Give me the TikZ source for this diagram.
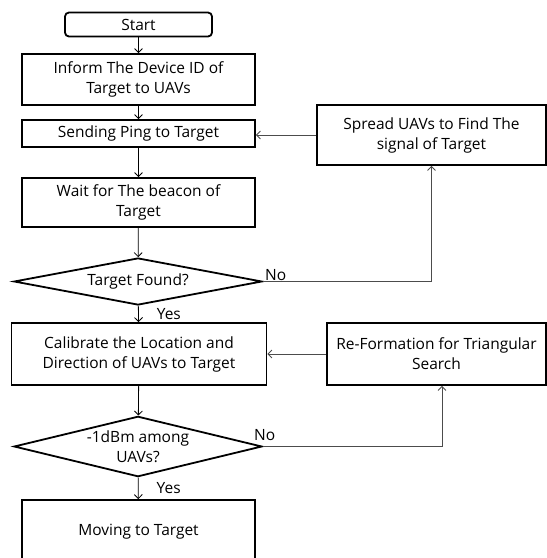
\documentclass[tikz,border=0pt]{standalone}
\usepackage{fontspec}
\setmainfont{Open Sans}
\usetikzlibrary{shapes.geometric,arrows.meta}

\begin{document}
\begin{tikzpicture}[x=1pt,y=-1pt,>={Straight Barb[length=4pt,width=8pt]}]
		\tikzstyle{every node}=[font=\fontsize{15.5}{20}\selectfont]
		\tikzstyle{box}=[draw,line width=1.8pt,fill=white,shape=rectangle,align=center,inner sep=2pt]
		\tikzstyle{startbox}=[box,rounded corners=4pt]
		\tikzstyle{decision}=[draw,line width=1.8pt,fill=white,shape=diamond,aspect=5,inner sep=0pt,align=center]
		\tikzstyle{flow}=[->,line width=0.8pt,black]
		\tikzstyle{back}=[->,line width=0.8pt,black!70]
		\tikzstyle{annot} = [inner sep=1pt]

		\clip (0,0) rectangle (547,558);

		\node[startbox, minimum width=147pt, minimum height=24pt](start) at (138.5,24.5){Start};
		\node[box, minimum width=233pt, minimum height=51pt](inform) at (138.5,79.5){Inform The Device ID of\\Target to UAVs};
		\node[box, minimum width=233pt, minimum height=27pt](ping) at (138.5,133.5){Sending Ping to Target};
		\node[box, minimum width=233pt, minimum height=49pt](wait) at (138.5,202.5){Wait for The beacon of\\Target};
		\node[decision, minimum width=248pt, minimum height=47pt](found) at (138,281.5){Target Found?};
		\node[box, minimum width=255pt, minimum height=62pt](calib) at (139,354){Calibrate the Location and\\Direction of UAVs to Target};
		\node[decision, aspect=3.6, minimum width=248pt, minimum height=59pt](dbm) at (138,446.5){-1dBm among\\UAVs?};
		\node[box, minimum width=233pt, minimum height=64pt](move) at (138.5,532){Moving to Target};

		\node[box, minimum width=229pt, minimum height=60pt](spread) at (431.5,135){Spread UAVs to Find The\\signal of Target};
		\node[box, minimum width=219pt, minimum height=62pt](reform) at (436.5,354){Re-Formation for Triangular\\Search};

		% main line
		\draw[flow] (start) -- (inform);
		\draw[flow] (inform) -- (ping);
		\draw[flow] (ping) -- (wait);
		\draw[flow] (wait) -- (found);
		\draw[flow] (found) -- node[annot, right, xshift=17pt](yes1){Yes} (calib);
		\draw[flow] (calib) -- (dbm);
		\draw[flow] (dbm) -- node[annot, right, xshift=17pt](yes2){Yes} (move);

		% loops back
		\draw[back] (found.east) -| (spread.south);
		\draw[back] (spread.west) -- (spread.west -| ping.east);
		\draw[back] (dbm.east) -| ([xshift=5.5pt]reform.south);
		\draw[back] (reform.west) -- (calib.east);

		\node[annot, above right, xshift=1pt](no1) at (found.east){No};
		\node[annot, above right, xshift=-10pt, yshift=5pt](no2) at (dbm.east){No};
\end{tikzpicture}
\end{document}
